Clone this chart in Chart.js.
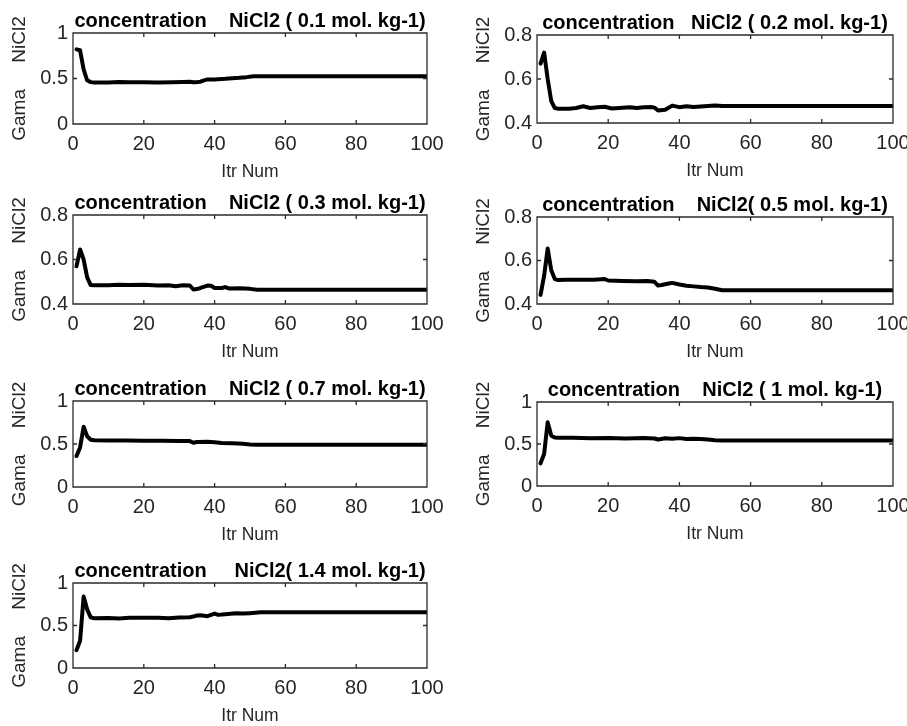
<!DOCTYPE html>
<html><head><meta charset="utf-8">
<script src="https://cdn.jsdelivr.net/npm/chart.js@4.4.1/dist/chart.umd.min.js"></script>
<style>
html,body{margin:0;padding:0;background:#fff;width:907px;height:726px;overflow:hidden;position:relative}
canvas{position:absolute}
</style></head><body>
<script>
// ---- tick labels ----
const xTicks = [0, 20, 40, 60, 80, 100];
const yTicksWide = [0, 0.5, 1];
const yTicksNarrow = [0.4, 0.6, 0.8];
const xAxisTitle = 'Itr Num';
const yAxisTitle = 'Gama     NiCl2';

// ---- panel titles ----
const titles = [
  'concentration    NiCl2 ( 0.1 mol. kg-1)',
  'concentration   NiCl2 ( 0.2 mol. kg-1)',
  'concentration    NiCl2 ( 0.3 mol. kg-1)',
  'concentration    NiCl2( 0.5 mol. kg-1)',
  'concentration    NiCl2 ( 0.7 mol. kg-1)',
  'concentration    NiCl2 ( 1 mol. kg-1)',
  'concentration     NiCl2( 1.4 mol. kg-1)'
];

// ---- series (iteration number, gamma) ----
const itr01  = [1,2,3,4,5,6,10,13,16,20,24,28,31,33,34,35,36,37,38,40,41,43,45,47,49,51,100];
const gama01 = [0.82,0.81,0.60,0.48,0.46,0.455,0.455,0.462,0.458,0.46,0.457,0.46,0.462,0.465,0.458,0.46,0.465,0.48,0.49,0.488,0.493,0.497,0.503,0.508,0.515,0.525,0.525];

const itr02  = [1,2,3,4,5,6,9,11,13,15,17,19,21,23,26,28,30,32,33,34,36,38,40,42,44,47,50,52,100];
const gama02 = [0.67,0.72,0.60,0.50,0.468,0.465,0.465,0.468,0.476,0.468,0.472,0.474,0.466,0.468,0.472,0.468,0.472,0.473,0.47,0.457,0.46,0.479,0.472,0.476,0.473,0.476,0.479,0.477,0.477];

const itr03  = [1,2,3,4,5,6,10,13,16,20,24,27,29,31,33,34,35,36,38,39,40,42,43,44,47,50,52,100];
const gama03 = [0.57,0.645,0.60,0.52,0.485,0.484,0.484,0.487,0.485,0.487,0.483,0.484,0.48,0.484,0.483,0.465,0.467,0.472,0.483,0.482,0.472,0.472,0.476,0.47,0.471,0.468,0.464,0.464];

const itr05  = [1,2,3,4,5,6,8,12,16,19,20,24,28,31,33,34,35,37,38,40,42,44,46,48,50,52,100];
const gama05 = [0.442,0.53,0.655,0.555,0.515,0.51,0.512,0.511,0.512,0.515,0.508,0.506,0.505,0.506,0.502,0.485,0.487,0.494,0.497,0.49,0.484,0.481,0.478,0.476,0.47,0.463,0.463];

const itr07  = [1,2,3,4,5,6,10,15,20,25,30,33,34,35,38,40,42,45,48,50,52,100];
const gama07 = [0.36,0.46,0.70,0.59,0.55,0.543,0.541,0.54,0.539,0.537,0.536,0.534,0.515,0.524,0.526,0.52,0.512,0.508,0.502,0.495,0.492,0.492];

const itr10  = [1,2,3,4,5,6,10,15,20,25,30,33,34,36,38,40,42,44,46,48,50,52,100];
const gama10 = [0.27,0.38,0.76,0.60,0.578,0.575,0.573,0.568,0.572,0.565,0.57,0.565,0.553,0.568,0.563,0.57,0.56,0.562,0.56,0.553,0.545,0.543,0.543];

const itr14  = [1,2,3,4,5,6,10,13,16,20,24,27,30,33,34,35,36,38,39,40,41,43,46,48,50,53,100];
const gama14 = [0.21,0.32,0.84,0.69,0.595,0.585,0.588,0.582,0.59,0.592,0.592,0.586,0.595,0.597,0.605,0.618,0.62,0.61,0.625,0.64,0.625,0.632,0.645,0.64,0.645,0.655,0.655];

const FONT = "'Liberation Sans', Arial, Helvetica, sans-serif";

// layout of the seven panels (canvas placement only)
const panels = [
  {t:0, xs:itr01, ys:gama01, yr:[0,1],     yt:yTicksWide,   left:0,   top:0,   plotH:91, padR:18},
  {t:1, xs:itr02, ys:gama02, yr:[0.4,0.8], yt:yTicksNarrow, left:464, top:2,   plotH:88, padR:14},
  {t:2, xs:itr03, ys:gama03, yr:[0.4,0.8], yt:yTicksNarrow, left:0,   top:182, plotH:89, padR:18},
  {t:3, xs:itr05, ys:gama05, yr:[0.4,0.8], yt:yTicksNarrow, left:464, top:184, plotH:87, padR:14},
  {t:4, xs:itr07, ys:gama07, yr:[0,1],     yt:yTicksWide,   left:0,   top:368, plotH:86, padR:18},
  {t:5, xs:itr10, ys:gama10, yr:[0,1],     yt:yTicksWide,   left:464, top:369, plotH:84, padR:14},
  {t:6, xs:itr14, ys:gama14, yr:[0,1],     yt:yTicksWide,   left:0,   top:550, plotH:85, padR:18}
];

const framePlugin = {
  id: 'frame',
  afterDatasetsDraw(chart) {
    const {ctx, chartArea: a, scales: {x, y}} = chart;
    const tl = 4;
    ctx.save();
    ctx.strokeStyle = '#2b2b2b';
    ctx.lineWidth = 1.3;
    ctx.beginPath();
    ctx.rect(a.left, a.top, a.right - a.left, a.bottom - a.top);
    x.ticks.forEach(t => {
      const px = x.getPixelForValue(t.value);
      ctx.moveTo(px, a.bottom); ctx.lineTo(px, a.bottom - tl);
      ctx.moveTo(px, a.top); ctx.lineTo(px, a.top + tl);
    });
    y.ticks.forEach(t => {
      const py = y.getPixelForValue(t.value);
      ctx.moveTo(a.left, py); ctx.lineTo(a.left + tl, py);
      ctx.moveTo(a.right, py); ctx.lineTo(a.right - tl, py);
    });
    ctx.stroke();
    ctx.restore();
  }
};

panels.forEach(p => {
  const cv = document.createElement('canvas');
  const plotRight = p.left === 0 ? 427 : 893 - p.left;
  const w = plotRight + p.padR;
  const h = 33 + p.plotH + 60;
  cv.width = w; cv.height = h;
  cv.style.left = p.left + 'px'; cv.style.top = p.top + 'px';
  cv.style.width = w + 'px'; cv.style.height = h + 'px';
  document.body.appendChild(cv);

  const yt = p.yt;
  new Chart(cv, {
    type: 'line',
    data: {
      datasets: [{
        data: p.xs.map((v, i) => ({x: v, y: p.ys[i]})),
        borderColor: '#000',
        borderWidth: 4,
        pointRadius: 0,
        tension: 0,
        fill: false,
        borderJoinStyle: 'round',
        borderCapStyle: 'round'
      }]
    },
    options: {
      responsive: false,
      animation: false,
      devicePixelRatio: 1,
      events: [],
      layout: {padding: {top: 11, left: 0, right: p.padR, bottom: 0}},
      plugins: {
        legend: {display: false},
        tooltip: {enabled: false},
        title: {
          display: true, text: titles[p.t], fullSize: false, color: '#000',
          font: {family: FONT, size: 20, weight: 'bold', lineHeight: '20px'},
          padding: {top: 0, bottom: 2}
        }
      },
      scales: {
        x: {
          type: 'linear', min: 0, max: 100,
          afterBuildTicks: s => { s.ticks = xTicks.map(v => ({value: v})); },
          afterFit: s => { s.height = 60; s.paddingLeft = 0; s.paddingRight = 0; },
          grid: {display: false, drawTicks: false},
          border: {display: false},
          ticks: {font: {family: FONT, size: 20}, color: '#262626', padding: 8, maxRotation: 0, autoSkip: false, callback: v => String(v)},
          title: {display: true, text: xAxisTitle, color: '#262626',
                  font: {family: FONT, size: 17.5, lineHeight: '20px'}, padding: {top: 0, bottom: 2}}
        },
        y: {
          type: 'linear', min: p.yr[0], max: p.yr[1],
          afterBuildTicks: s => { s.ticks = yt.map(v => ({value: v})); },
          afterFit: s => { s.width = 73; s.paddingTop = 0; s.paddingBottom = 0; },
          grid: {display: false, drawTicks: false},
          border: {display: false},
          ticks: {font: {family: FONT, size: 20}, color: '#262626', padding: 5, autoSkip: false, callback: v => String(v)},
          title: {display: true, text: yAxisTitle, color: '#262626',
                  font: {family: FONT, size: 19, lineHeight: '20px'}, padding: {top: 10, bottom: 0}}
        }
      }
    },
    plugins: [framePlugin]
  });
});
</script>
</body></html>
